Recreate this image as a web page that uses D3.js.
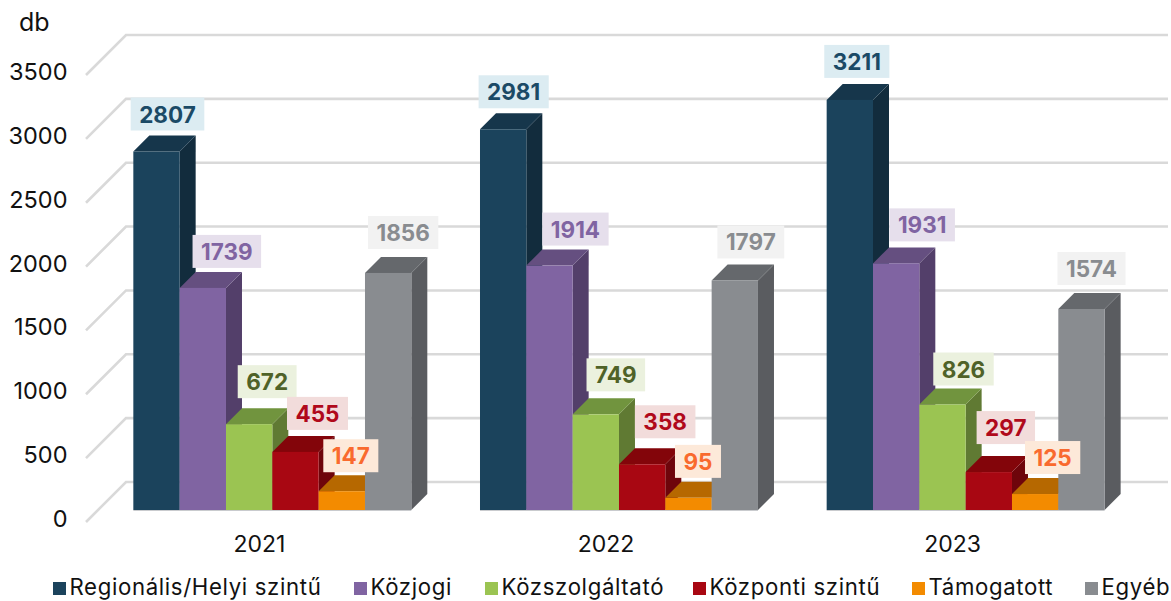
<!DOCTYPE html>
<html><head><meta charset="utf-8">
<script src="https://cdn.jsdelivr.net/npm/d3@7"></script>
<style>html,body{margin:0;padding:0;background:#fff}svg{display:block}text{font-family:Inter,sans-serif}</style>
</head><body><div id="chart"></div>
<script>
const years = ["2021","2022","2023"];
const seriesNames = ["Regionális/Helyi szintű","Közjogi","Közszolgáltató","Központi szintű","Támogatott","Egyéb"];
const regionalis = [2807,2981,3211];
const kozjogi = [1739,1914,1931];
const kozszolgaltato = [672,749,826];
const kozponti = [455,358,297];
const tamogatott = [147,95,125];
const egyeb = [1856,1797,1574];
const yTicks = [0,500,1000,1500,2000,2500,3000,3500];

const seriesValues = [regionalis,kozjogi,kozszolgaltato,kozponti,tamogatott,egyeb];
// presentation
const palette = [
 {front:"#1B435C",side:"#122C3D",top:"#16364B",bg:"#DCECF2",ink:"#1B4A66"},
 {front:"#8064A2",side:"#533F6A",top:"#654F80",bg:"#E6DFEC",ink:"#8064A2"},
 {front:"#9BC452",side:"#607A33",top:"#71943E",bg:"#EBF1DE",ink:"#4F6228"},
 {front:"#A80712",side:"#6E050B",top:"#83050A",bg:"#F2DCDB",ink:"#B0091B"},
 {front:"#F38B00",side:"#A96000",top:"#B66800",bg:"#FDE9D9",ink:"#F96A2E"},
 {front:"#898C90",side:"#5A5C60",top:"#65686C",bg:"#F2F2F2",ink:"#898C90"}
];
// label offsets from the bar's top-centre [dx, gap below box]
const nudges = [
 [[11,21],[24,20],[18,26],[22,22],[9,19],[15,24]],
 [[10.5,21],[26,20],[20,23],[23,26],[9.5,20],[16,22]],
 [[7,22],[26,22],[21,19],[17,28],[17.5,20],[10,24]]
];
const legendX = [53,354,485,693,912,1085];

const W=1171,H=601, wall=40, floorIn=12, depth=16;
const svg=d3.select("#chart").append("svg").attr("width",W).attr("height",H);
const x=d3.scaleBand().domain(years).range([86,1126]);
const bw=46.33;
const y=d3.scaleLinear().domain([0,3500]).range([522,75]);
const sub=d3.scaleBand().domain(d3.range(6)).range([0,bw*6]);

// grid
const grid=svg.append("g").attr("fill","none").attr("stroke","#D9D9D9").attr("stroke-width",2.6);
yTicks.forEach(t=>{
  grid.append("path").attr("d",d3.line()([[86,y(t)],[86+wall,y(t)-wall],[1168,y(t)-wall]]));
});

// axes
const ya=d3.axisLeft(y).tickValues(yTicks).tickSize(0).tickPadding(0).tickFormat(d3.format("d"));
const gy=svg.append("g").attr("transform","translate(67.5,-3)").call(ya);
gy.select(".domain").remove();
gy.selectAll("text").attr("font-size",23.5).attr("fill","#111").attr("font-family","Inter,sans-serif");
const xa=d3.axisBottom(x).tickSize(0).tickPadding(0);
const gx=svg.append("g").attr("transform","translate(0,536)").call(xa);
gx.select(".domain").remove();
gx.selectAll("text").attr("font-size",23).attr("fill","#111").attr("font-family","Inter,sans-serif");
svg.append("text").attr("x",19).attr("y",31).attr("font-size",25).attr("fill","#111").text("db");

// bars
years.forEach((yr,gi)=>{
  const x0=x(yr)+47.33;
  const g=svg.append("g");
  seriesValues.forEach((vals,si)=>{
    const v=vals[gi], L=x0+sub(si), R=L+bw, T=y(v)-floorIn, B=y(0)-floorIn, c=palette[si];
    g.append("path").attr("fill",c.side).attr("d",d3.line()([[R,T],[R+depth,T-depth],[R+depth,B-depth],[R,B]])+"Z");
    g.append("path").attr("fill",c.top).attr("d",d3.line()([[L,T],[L+depth,T-depth],[R+depth,T-depth],[R,T]])+"Z");
    g.append("rect").attr("x",L).attr("y",T).attr("width",bw).attr("height",B-T).attr("fill",c.front);
  });
  g.append("line").attr("x1",x0).attr("x2",x0+bw*6).attr("y1",y(0)-floorIn+.5).attr("y2",y(0)-floorIn+.5).attr("stroke","#C9CBCE").attr("stroke-width",1);
});

// labels
years.forEach((yr,gi)=>{
  const x0=x(yr)+47.33;
  seriesValues.forEach((vals,si)=>{
    const v=vals[gi], c=palette[si], n=nudges[gi][si];
    const cx=x0+sub(si)+bw/2+n[0], bot=y(v)-floorIn-n[1];
    const g=svg.append("g");
    const r=g.append("rect").attr("fill",c.bg);
    const t=g.append("text").attr("x",cx).attr("y",bot-8).attr("text-anchor","middle")
      .attr("font-size",22.5).attr("font-weight",700).attr("fill",c.ink).text(v);
    const w=t.node().getComputedTextLength()+17;
    r.attr("x",cx-w/2).attr("y",bot-33).attr("width",w).attr("height",33);
  });
});

// legend
seriesNames.forEach((n,i)=>{
  svg.append("rect").attr("x",legendX[i]).attr("y",582).attr("width",13).attr("height",13).attr("fill",palette[i].front);
  svg.append("text").attr("x",legendX[i]+16.5).attr("y",595).attr("font-size",22.2).attr("letter-spacing",.65).attr("fill","#111").text(n);
});
</script></body></html>
